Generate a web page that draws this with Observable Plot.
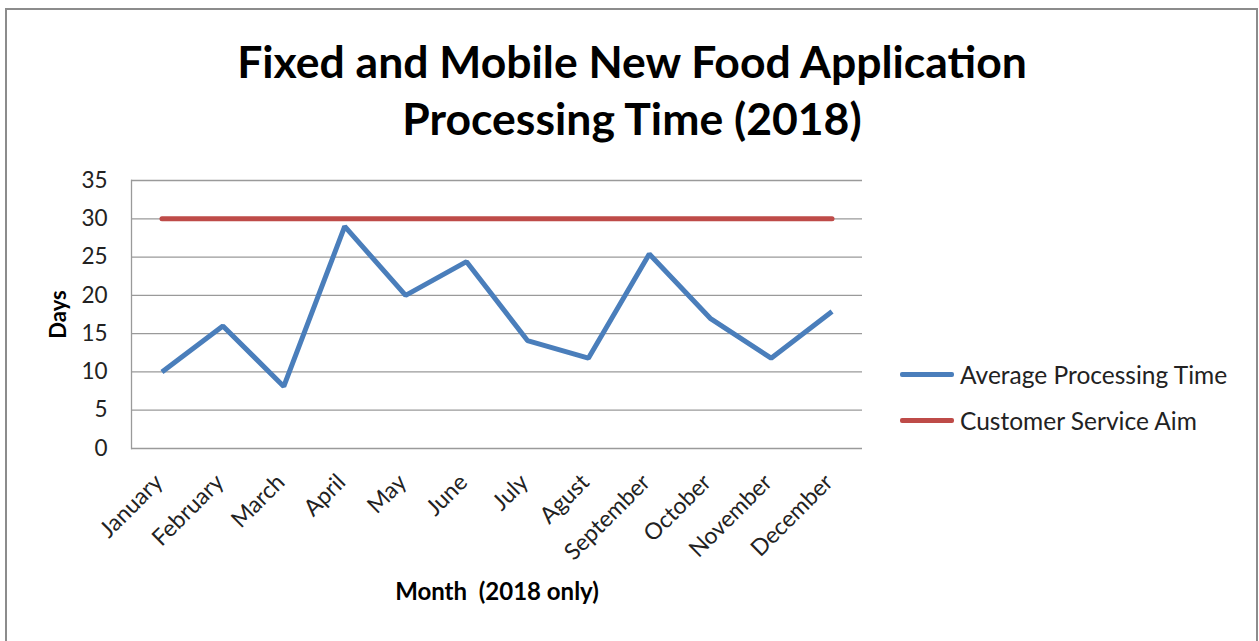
<!DOCTYPE html>
<html>
<head>
<meta charset="utf-8">
<script src="https://cdn.jsdelivr.net/npm/d3@7"></script>
<script src="https://cdn.jsdelivr.net/npm/@observablehq/plot@0.6"></script>
<style>
  html, body { margin: 0; padding: 0; background: #fff; }
  #wrap { position: relative; width: 1259px; height: 641px; overflow: hidden; font-family: Lato, "Open Sans", sans-serif; }
  #border { position: absolute; left: 5px; top: 8px; width: 1249px; height: 660px; border: 2px solid #8c8c8c; }
  #title { position: absolute; left: 0; top: 32px; width: 1264px; text-align: center; font-weight: bold; font-size: 44.5px; line-height: 57px; color: #000; }
  #chart { position: absolute; left: 0; top: 150px; }
  #legend { position: absolute; left: 900px; top: 351px; font-size: 24.5px; color: #222; }
  .item { display: flex; align-items: center; height: 46px; }
  .swatch { width: 54px; height: 5px; border-radius: 2px; margin-right: 6px; }
</style>
</head>
<body>
<div id="wrap">
  <div id="border"></div>
  <div id="title">Fixed and Mobile New Food Application<br>Processing Time (2018)</div>
  <div id="chart"></div>
  <div id="legend"></div>
</div>
<script>
const months = ["January","February","March","April","May","June","July","Agust","September","October","November","December"];
const avgProcessing = [10, 16, 8.1, 29, 20, 24.4, 14.1, 11.8, 25.4, 17, 11.8, 17.9];
const serviceAim = [30, 30, 30, 30, 30, 30, 30, 30, 30, 30, 30, 30];
const yTicks = [0, 5, 10, 15, 20, 25, 30, 35];
const seriesNames = ["Average Processing Time", "Customer Service Aim"];
const seriesColors = ["#4a7ebb", "#be4b48"];

const avgData = months.map((m, i) => ({month: m, value: avgProcessing[i]}));
const aimData = months.map((m, i) => ({month: m, value: serviceAim[i]}));

const chart = Plot.plot({
  width: 900,
  height: 491,
  marginLeft: 131,
  marginRight: 38,
  marginTop: 30,
  marginBottom: 193,
  style: {fontFamily: "Lato, 'Open Sans', sans-serif", fontSize: "22px", color: "#222", background: "transparent"},
  x: {type: "point", domain: months, padding: 0.5, round: false, label: null},
  y: {domain: [0, 35], label: null},
  marks: [
    Plot.ruleY(yTicks, {stroke: "#9a9a9a", strokeWidth: 1.3}),
    Plot.frame({anchor: "left", stroke: "#9a9a9a", strokeWidth: 1.3}),
    Plot.axisY({ticks: yTicks, tickSize: 0, tickPadding: 24, label: null, fontSize: 22.5}),
    Plot.axisX({tickSize: 0, tickRotate: -45, tickPadding: 30, dx: -3, label: null, fontSize: 23}),
    Plot.line(aimData, {x: "month", y: "value", stroke: seriesColors[1], strokeWidth: 5, strokeLinecap: "round"}),
    Plot.line(avgData, {x: "month", y: "value", stroke: seriesColors[0], strokeWidth: 5, strokeLinejoin: "miter", strokeLinecap: "butt"}),
    Plot.text(["Days"], {frameAnchor: "left", textAnchor: "middle", dx: -73, rotate: -90, fontWeight: "bold", fontSize: 22, fill: "#000"}),
    Plot.text(["Month\u00a0 (2018 only)"], {frameAnchor: "bottom", dy: 151, fontWeight: "bold", fontSize: 24, fill: "#000"})
  ]
});
document.getElementById("chart").appendChild(chart);

const legend = document.getElementById("legend");
seriesNames.forEach((name, i) => {
  const item = document.createElement("div");
  item.className = "item";
  const sw = document.createElement("div");
  sw.className = "swatch";
  sw.style.background = seriesColors[i];
  const label = document.createElement("span");
  label.textContent = name;
  item.appendChild(sw);
  item.appendChild(label);
  legend.appendChild(item);
});
</script>
</body>
</html>
